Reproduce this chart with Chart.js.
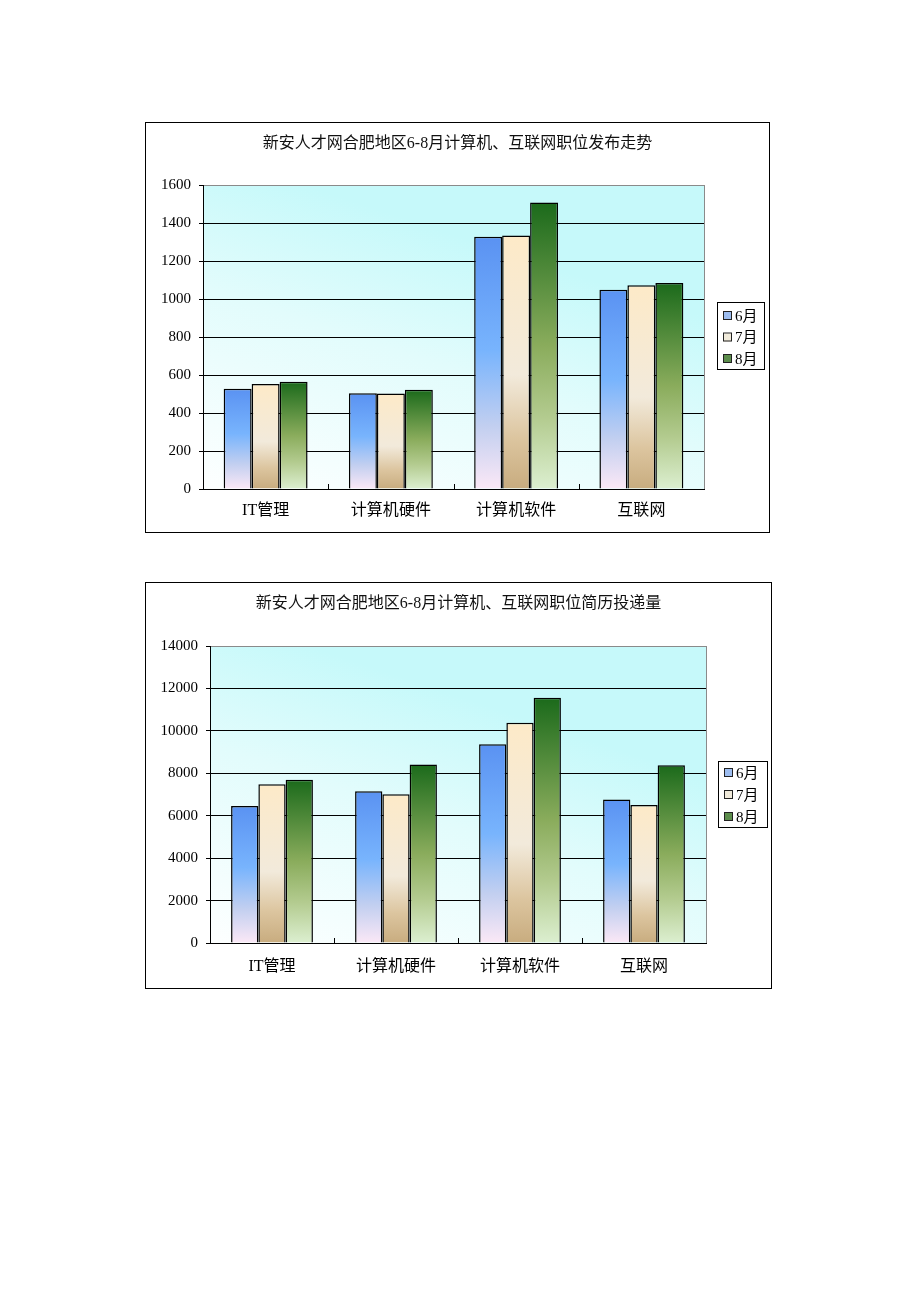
<!DOCTYPE html>
<html>
<head>
<meta charset="utf-8">
<script src="https://cdn.jsdelivr.net/npm/chart.js@4.4.1/dist/chart.umd.min.js"></script>
<style>
  html, body { margin: 0; padding: 0; background: #fff; }
  body { width: 920px; height: 1302px; position: relative; overflow: hidden; }
  .frame { position: absolute; border: 1px solid #000; box-sizing: border-box; background: #fff; }
  .frame canvas { display: block; }
</style>
</head>
<body>
<div class="frame" id="f1" style="left:145px; top:122px; width:625px; height:411px;">
  <canvas id="c1" width="623" height="409" style="width:623px;height:409px;"></canvas>
</div>
<div class="frame" id="f2" style="left:145px; top:582px; width:627px; height:407px;">
  <canvas id="c2" width="625" height="405" style="width:625px;height:405px;"></canvas>
</div>
<script>
// ---- data ----
const categories = ['IT管理', '计算机硬件', '计算机软件', '互联网'];
const months = ['6月', '7月', '8月'];

const title1 = '新安人才网合肥地区6-8月计算机、互联网职位发布走势';
const postJun = [528, 504, 1327, 1049];
const postJul = [553, 502, 1334, 1073];
const postAug = [565, 522, 1508, 1084];
const postTicks = [0, 200, 400, 600, 800, 1000, 1200, 1400, 1600];

const title2 = '新安人才网合肥地区6-8月计算机、互联网职位简历投递量';
const resumeJun = [6460, 7150, 9370, 6760];
const resumeJul = [7480, 7010, 10380, 6500];
const resumeAug = [7700, 8420, 11560, 8380];
const resumeTicks = [0, 2000, 4000, 6000, 8000, 10000, 12000, 14000];

// ---- styles ----
const FONT = "'Liberation Serif', 'Noto Sans CJK SC', serif";
const barStops = [
  [[0, '#5a92f2'], [0.45, '#78b4fd'], [0.75, '#c2cff0'], [1, '#fbe8f6']],
  [[0, '#fdeac8'], [0.55, '#f2eadb'], [0.8, '#dcc59f'], [1, '#c8ac7f']],
  [[0, '#1b6a1b'], [0.5, '#8aac5c'], [0.75, '#b3cb8f'], [1, '#dcefd0']]
];
const swatchColors = ['#9dbdf0', '#f0eada', '#5c8d4c'];

function barGradient(stops) {
  return function (c) {
    const chart = c.chart;
    const y = chart.scales && chart.scales.y;
    if (!y || !chart.chartArea || c.raw == null) return stops[0][1];
    const top = y.getPixelForValue(c.raw);
    const base = y.getPixelForValue(0);
    if (!isFinite(top) || !isFinite(base) || top === base) return stops[0][1];
    const g = chart.ctx.createLinearGradient(0, top, 0, base);
    stops.forEach(s => g.addColorStop(s[0], s[1]));
    return g;
  };
}

const areaPlugin = {
  id: 'areaDeco',
  beforeDraw(chart) {
    const a = chart.chartArea, ctx = chart.ctx;
    const w = a.right - a.left;
    const g = ctx.createLinearGradient(a.left, a.bottom, a.left + w * 0.2, a.top);
    g.addColorStop(0, '#fdffff');
    g.addColorStop(0.6, '#e2fcfc');
    g.addColorStop(1, '#c6f9fa');
    ctx.save();
    ctx.fillStyle = g;
    ctx.fillRect(a.left, a.top, w, a.bottom - a.top);
    ctx.restore();
  },
  afterDatasetsDraw(chart) {
    const a = chart.chartArea, ctx = chart.ctx, x = chart.scales.x;
    ctx.save();
    ctx.strokeStyle = '#8a8a8a';
    ctx.lineWidth = 1;
    ctx.beginPath();
    ctx.moveTo(Math.round(a.right) + 0.5, a.top);
    ctx.lineTo(Math.round(a.right) + 0.5, a.bottom);
    ctx.stroke();
    const n = chart.data.labels.length;
    const step = x.getPixelForValue(1) - x.getPixelForValue(0);
    ctx.strokeStyle = '#000';
    ctx.beginPath();
    for (let i = 1; i < n; i++) {
      const px = Math.round(x.getPixelForValue(i) - step / 2) + 0.5;
      ctx.moveTo(px, a.bottom);
      ctx.lineTo(px, a.bottom - 5);
    }
    ctx.stroke();
    ctx.restore();
  },
  afterDraw(chart, args, opts) {
    const ctx = chart.ctx;
    ctx.save();
    // title centred across the whole frame
    if (opts.title) {
      ctx.font = '16px ' + FONT;
      ctx.fillStyle = '#111';
      ctx.textAlign = 'center';
      ctx.textBaseline = 'middle';
      ctx.fillText(opts.title, chart.width / 2, opts.titleCenter);
    }
    const L = opts.legend;
    if (L) {
      ctx.strokeStyle = '#000';
      ctx.lineWidth = 1;
      ctx.strokeRect(L.x + 0.5, L.y + 0.5, L.w, L.h);
      ctx.font = '15px ' + FONT;
      ctx.textBaseline = 'middle';
      ctx.textAlign = 'left';
      chart.data.datasets.forEach((ds, i) => {
        const cy = L.y + L.rowTop + i * L.rowGap;
        ctx.fillStyle = swatchColors[i];
        ctx.fillRect(L.x + 6, cy - 4, 8, 8);
        ctx.strokeStyle = '#222';
        ctx.strokeRect(L.x + 6.5, cy - 4.5, 8, 8);
        ctx.fillStyle = '#000';
        ctx.fillText(ds.label, L.x + 18, cy + 1);
      });
    }
    ctx.restore();
  }
};

function makeChart(id, opt) {
  const canvas = document.getElementById(id);
  const W = canvas.width, H = canvas.height;
  const datasets = opt.series.map((vals, i) => ({
    label: months[i],
    data: vals,
    backgroundColor: barGradient(barStops[i]),
    borderColor: '#000',
    borderWidth: 1.5,
    categoryPercentage: opt.catPct,
    barPercentage: 1.0
  }));
  const ticksVals = opt.ticks;
  const yMax = ticksVals[ticksVals.length - 1];
  return new Chart(canvas, {
    type: 'bar',
    data: { labels: categories, datasets },
    options: {
      responsive: false,
      animation: false,
      devicePixelRatio: 1,
      layout: { padding: { left: 0, right: W - opt.area.right, top: opt.area.top, bottom: 0 } },
      plugins: {
        legend: { display: false },
        tooltip: { enabled: false },
        title: { display: false },
        areaDeco: { legend: opt.legend, title: opt.title, titleCenter: opt.titleCenter }
      },
      scales: {
        x: {
          afterFit(s) { s.height = H - opt.area.bottom; },
          grid: { display: true, drawOnChartArea: false, drawTicks: false },
          border: { display: true, color: '#000', width: 1 },
          ticks: {
            color: '#000',
            padding: opt.labelGap - 9.6,
            font: { family: FONT, size: 16, lineHeight: 1.2 },
            maxRotation: 0, autoSkip: false
          }
        },
        y: {
          min: 0,
          max: yMax,
          afterFit(s) { s.width = opt.area.left; },
          afterBuildTicks(s) { s.ticks = ticksVals.map(v => ({ value: v })); },
          grid: {
            color: (c) => (c.tick && c.tick.value === yMax) ? '#8a8a8a' : '#000',
            tickColor: '#000',
            lineWidth: 1,
            drawTicks: true,
            tickLength: 4
          },
          border: { display: true, color: '#000', width: 1 },
          ticks: {
            color: '#000',
            padding: 8,
            font: { family: FONT, size: 15 },
            callback: (v) => String(v)
          }
        }
      }
    },
    plugins: [areaPlugin]
  });
}

makeChart('c1', {
  title: title1,
  series: [postJun, postJul, postAug],
  ticks: postTicks,
  catPct: 0.67,
  area: { left: 57, right: 558, top: 62, bottom: 366 },
  titleCenter: 21,
  labelGap: 22,
  legend: { x: 571, y: 179, w: 47, h: 67, rowTop: 14, rowGap: 21.5 }
});

makeChart('c2', {
  title: title2,
  series: [resumeJun, resumeJul, resumeAug],
  ticks: resumeTicks,
  catPct: 0.66,
  area: { left: 64, right: 560, top: 63, bottom: 360 },
  titleCenter: 21,
  labelGap: 24,
  legend: { x: 572, y: 178, w: 49, h: 66, rowTop: 12, rowGap: 22 }
});
</script>
</body>
</html>
